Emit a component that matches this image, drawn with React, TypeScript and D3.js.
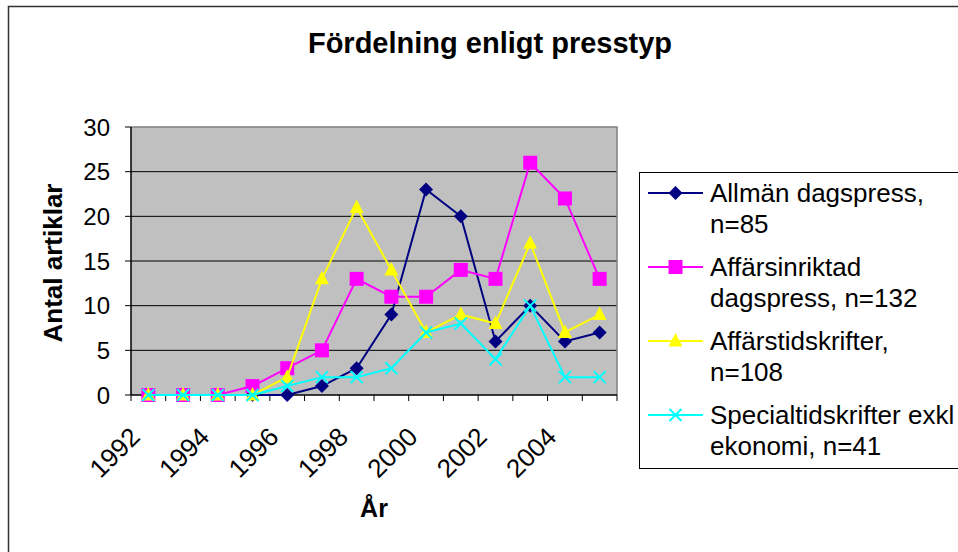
import React, { useEffect, useRef } from 'react';
import * as d3 from 'd3';

const years = [1992, 1993, 1994, 1995, 1996, 1997, 1998, 1999, 2000, 2001, 2002, 2003, 2004, 2005];
const yearLabels = [1992, 1994, 1996, 1998, 2000, 2002, 2004];
const yTicks = [0, 5, 10, 15, 20, 25, 30];

const allman = [0, 0, 0, 0, 0, 1, 3, 9, 23, 20, 6, 10, 6, 7];
const affarsinriktad = [0, 0, 0, 1, 3, 5, 13, 11, 11, 14, 13, 26, 22, 13];
const affarstidskrifter = [0, 0, 0, 0, 2, 13, 21, 14, 7, 9, 8, 17, 7, 9];
const specialtidskrifter = [0, 0, 0, 0, 1, 2, 2, 3, 7, 8, 4, 10, 2, 2];

const seriesNames = [
  ['Allmän dagspress,', 'n=85'],
  ['Affärsinriktad', 'dagspress, n=132'],
  ['Affärstidskrifter,', 'n=108'],
  ['Specialtidskrifter exkl', 'ekonomi, n=41'],
];
const seriesValues = [allman, affarsinriktad, affarstidskrifter, specialtidskrifter];
const seriesColors = ['#000080', '#FF00FF', '#FFFF00', '#00FFFF'];
const seriesMarkers = ['diamond', 'square', 'triangle', 'cross'];

const FONT = 'Arial, "Liberation Sans", sans-serif';

function drawMarker(g: any, type: string, x: number, y: number, color: string) {
  if (type === 'diamond') {
    g.append('path')
      .attr('d', `M${x},${y - 7}L${x + 7},${y}L${x},${y + 7}L${x - 7},${y}Z`)
      .attr('fill', color);
  } else if (type === 'square') {
    g.append('rect').attr('x', x - 7).attr('y', y - 7).attr('width', 14).attr('height', 14).attr('fill', color);
  } else if (type === 'triangle') {
    g.append('path')
      .attr('d', `M${x},${y - 8}L${x + 7},${y + 5.5}L${x - 7},${y + 5.5}Z`)
      .attr('fill', color);
  } else {
    g.append('path')
      .attr('d', `M${x - 6},${y - 6}L${x + 6},${y + 6}M${x - 6},${y + 6}L${x + 6},${y - 6}`)
      .attr('stroke', color)
      .attr('stroke-width', 2)
      .attr('fill', 'none');
  }
}

const App = () => {
  const svgRef = useRef<SVGSVGElement | null>(null);

  useEffect(() => {
    if (!svgRef.current) return;
    const svg = d3.select(svgRef.current);
    svg.selectAll('*').remove();

    const left = 131, right = 617, top = 127, bottom = 395;

    svg.append('rect').attr('width', 958).attr('height', 552).attr('fill', '#ffffff');
    // outer chart frame (continues past the right/bottom edge)
    svg.append('rect')
      .attr('x', 8.5).attr('y', 6.5).attr('width', 1000).attr('height', 600)
      .attr('fill', 'none').attr('stroke', '#333').attr('stroke-width', 1.5);

    const x = d3.scaleBand<number>().domain(years).range([left, right]);
    const y = d3.scaleLinear().domain([0, 30]).range([bottom, top]);

    // plot area
    svg.append('rect')
      .attr('x', left).attr('y', top).attr('width', right - left).attr('height', bottom - top)
      .attr('fill', '#C0C0C0');

    // gridlines
    svg.selectAll('.grid')
      .data(yTicks.filter(t => t > 0 && t < 30))
      .enter()
      .append('line')
      .attr('x1', left).attr('x2', right)
      .attr('y1', d => y(d)).attr('y2', d => y(d))
      .attr('stroke', '#000').attr('stroke-width', 1);

    // plot border top/right
    svg.append('path')
      .attr('d', `M${left},${top}H${right}V${bottom}`)
      .attr('fill', 'none').attr('stroke', '#808080').attr('stroke-width', 1.5);

    // y axis
    svg.append('line').attr('x1', left).attr('x2', left).attr('y1', top).attr('y2', bottom)
      .attr('stroke', '#000').attr('stroke-width', 1.5);
    yTicks.forEach(t => {
      svg.append('line').attr('x1', left - 6).attr('x2', left).attr('y1', y(t)).attr('y2', y(t))
        .attr('stroke', '#000').attr('stroke-width', 1);
      svg.append('text')
        .attr('x', 110).attr('y', y(t)).attr('dy', '0.36em')
        .attr('text-anchor', 'end')
        .attr('font-family', FONT).attr('font-size', 24).attr('fill', '#000')
        .text(t);
    });

    // x axis
    svg.append('line').attr('x1', left).attr('x2', right).attr('y1', bottom).attr('y2', bottom)
      .attr('stroke', '#000').attr('stroke-width', 1.5);
    const bounds = years.map(yr => x(yr) as number).concat([right]);
    bounds.forEach(b => {
      svg.append('line').attr('x1', b).attr('x2', b).attr('y1', bottom).attr('y2', bottom + 6)
        .attr('stroke', '#000').attr('stroke-width', 1);
    });
    yearLabels.forEach(yr => {
      const bx = (x(yr) as number) + 4;
      svg.append('text')
        .attr('transform', `translate(${bx},${432}) rotate(-45)`)
        .attr('dy', '0.35em')
        .attr('text-anchor', 'end')
        .attr('font-family', FONT).attr('font-size', 26).attr('fill', '#000')
        .text(yr);
    });

    // series
    const cx = (i: number) => (x(years[i]) as number) + x.bandwidth() / 2;
    seriesValues.forEach((vals, s) => {
      const g = svg.append('g');
      const line = d3.line<number>().x((_, i) => cx(i)).y(v => y(v));
      g.append('path')
        .attr('d', line(vals))
        .attr('fill', 'none')
        .attr('stroke', seriesColors[s])
        .attr('stroke-width', 2);
      vals.forEach((v, i) => drawMarker(g, seriesMarkers[s], cx(i), y(v), seriesColors[s]));
    });

    // titles
    svg.append('text')
      .attr('x', 490).attr('y', 53)
      .attr('text-anchor', 'middle')
      .attr('font-family', FONT).attr('font-size', 29).attr('font-weight', 'bold')
      .text('Fördelning enligt presstyp');

    svg.append('text')
      .attr('x', 374).attr('y', 517)
      .attr('text-anchor', 'middle')
      .attr('font-family', FONT).attr('font-size', 25).attr('font-weight', 'bold')
      .text('År');

    svg.append('text')
      .attr('transform', `translate(62,263) rotate(-90)`)
      .attr('text-anchor', 'middle')
      .attr('font-family', FONT).attr('font-size', 26).attr('font-weight', 'bold')
      .text('Antal artiklar');

    // legend
    svg.append('rect')
      .attr('x', 639.5).attr('y', 172.5).attr('width', 400).attr('height', 296)
      .attr('fill', '#fff').attr('stroke', '#000').attr('stroke-width', 1);

    seriesNames.forEach((lines, s) => {
      const ly = 193 + s * 74;
      const g = svg.append('g');
      g.append('line').attr('x1', 648).attr('x2', 703).attr('y1', ly).attr('y2', ly)
        .attr('stroke', seriesColors[s]).attr('stroke-width', 2);
      drawMarker(g, seriesMarkers[s], 675.5, ly, seriesColors[s]);
      lines.forEach((txt, k) => {
        g.append('text')
          .attr('x', 710).attr('y', ly + k * 31).attr('dy', '0.36em')
          .attr('font-family', FONT).attr('font-size', 26).attr('fill', '#000')
          .text(txt);
      });
    });
  }, []);

  return (
    <svg
      ref={svgRef}
      width={958}
      height={552}
      style={{ position: 'absolute', left: 0, top: 0, display: 'block' }}
    />
  );
};

export default App;
